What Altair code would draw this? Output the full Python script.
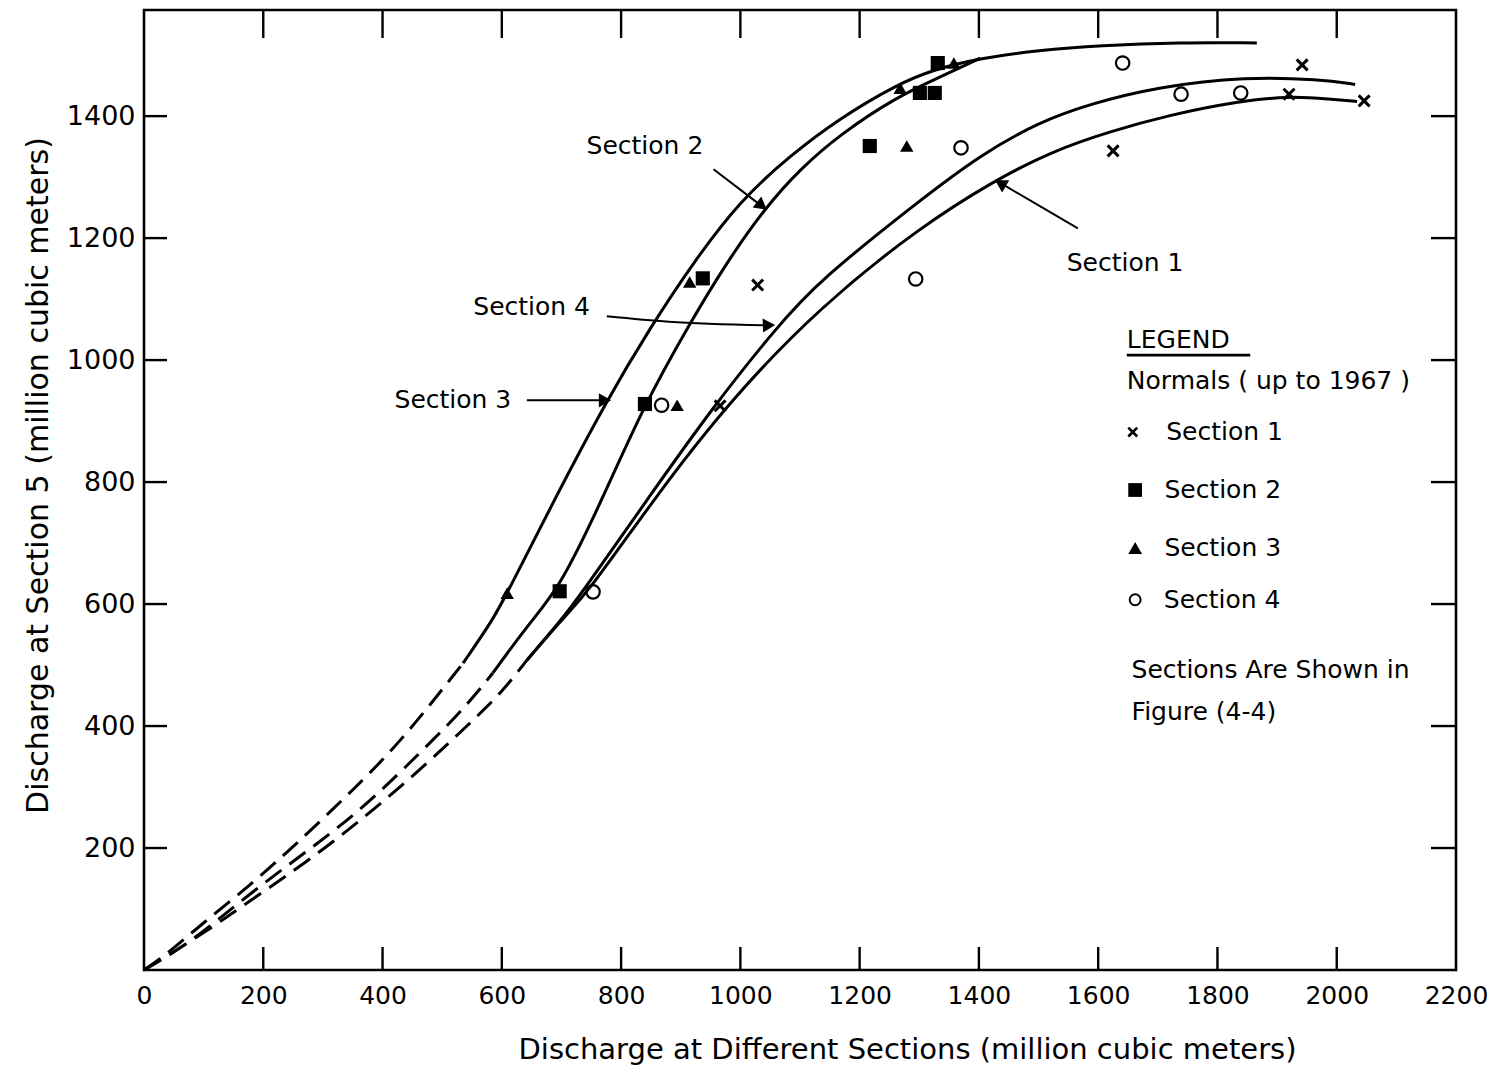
import altair as alt
import pandas as pd

# ---------------- data ----------------
# Curves (million cubic meters)
s3_dash_x = [0, 32, 99, 183, 257, 345, 429, 535]
s3_dash_y = [0, 21, 77, 143, 208, 290, 372, 503]
s3_x = [535, 585, 609, 690, 776, 850, 921, 1000, 1083, 1167, 1263, 1323, 1402, 1500, 1603, 1737, 1866]
s3_y = [503, 574, 618, 775, 934, 1055, 1160, 1262, 1335, 1397, 1452, 1476, 1495, 1508, 1516, 1521, 1520]

s2_dash_x = [0, 77, 178, 267, 357, 434, 535, 585]
s2_dash_y = [0, 44, 126, 190, 257, 328, 426, 487]
s2_x = [585, 647, 698, 770, 837, 915, 977, 1041, 1100, 1167, 1263, 1335, 1402]
s2_y = [487, 570, 628, 775, 923, 1060, 1160, 1249, 1313, 1370, 1432, 1464, 1495]

s14_dash_x = [0, 100, 174, 273, 371, 463, 547, 600, 642]
s14_dash_y = [0, 60, 111, 177, 251, 328, 405, 455, 508]

s4_x = [642, 698, 734, 850, 954, 1061, 1133, 1301, 1402, 1500, 1586, 1699, 1849, 1972, 2031]
s4_y = [508, 572, 618, 780, 923, 1054, 1131, 1262, 1336, 1390, 1420, 1448, 1465, 1460, 1452]

s1_x = [642, 698, 744, 862, 983, 1133, 1301, 1427, 1524, 1620, 1720, 1833, 1920, 1989, 2034]
s1_y = [508, 572, 618, 782, 934, 1087, 1218, 1295, 1343, 1375, 1402, 1424, 1433, 1428, 1424]

# Observed normals (up to 1967)
pts1_x = [966, 1029, 1625, 1920, 1942, 2046]
pts1_y = [925, 1123, 1343, 1436, 1484, 1425]
pts2_x = [697, 840, 937, 1217, 1301, 1326, 1331]
pts2_y = [621, 928, 1134, 1351, 1438, 1438, 1487]
pts3_x = [609, 894, 915, 1268, 1279, 1358]
pts3_y = [618, 926, 1128, 1446, 1351, 1487]
pts4_x = [753, 868, 1294, 1370, 1641, 1739, 1839]
pts4_y = [620, 926, 1133, 1348, 1487, 1436, 1438]

x_ticks = [0, 200, 400, 600, 800, 1000, 1200, 1400, 1600, 1800, 2000, 2200]
y_ticks = [200, 400, 600, 800, 1000, 1200, 1400]

# ---------------- build tables ----------------
def curve(name, xs, ys):
    return pd.DataFrame({"curve": name, "x": xs, "y": ys})

solid = pd.concat([curve("s3", s3_x, s3_y), curve("s2", s2_x, s2_y),
                   curve("s4", s4_x, s4_y), curve("s1", s1_x, s1_y)])
dashed = pd.concat([curve("s3", s3_dash_x, s3_dash_y), curve("s2", s2_dash_x, s2_dash_y),
                    curve("s14", s14_dash_x, s14_dash_y)])

W, H = 1312, 960
XD = [0, 2200]
YD = [0, 1574]
FONT = "DejaVu Sans"

xs = alt.Scale(domain=XD, nice=False, zero=False)
ys = alt.Scale(domain=YD, nice=False, zero=False)

x_axis = alt.Axis(values=x_ticks, ticks=False, domain=False, grid=False, format="d",
                  labelFontSize=25, labelFont=FONT, labelColor="black", labelPadding=13,
                  title="Discharge at Different Sections (million cubic meters)",
                  titleFontSize=29, titleFont=FONT, titleFontWeight="normal",
                  titleColor="black", titlePadding=27, labelFlush=False,
                  titleX=763)
y_axis = alt.Axis(values=y_ticks, ticks=False, domain=False, grid=False, format="d",
                  labelFontSize=27, labelFont=FONT, labelColor="black", labelPadding=9,
                  title="Discharge at Section 5 (million cubic meters)",
                  titleFontSize=30, titleFont=FONT, titleFontWeight="normal",
                  titleColor="black", titlePadding=13, titleY=465)

X = alt.X("x:Q", scale=xs, axis=x_axis)
Y = alt.Y("y:Q", scale=ys, axis=y_axis)

solid_lines = alt.Chart(solid).mark_line(color="black", strokeWidth=3, interpolate="basis").encode(
    x=X, y=Y, detail="curve:N")
dashed_lines = alt.Chart(dashed).mark_line(color="black", strokeWidth=3, interpolate="basis",
                                           strokeDash=[20, 10]).encode(x=X, y=Y, detail="curve:N")

# inward ticks
tx = pd.DataFrame({"x": x_ticks[1:-1]})
ty = pd.DataFrame({"y": y_ticks})
tick_bottom = alt.Chart(tx).mark_rule(color="black", strokeWidth=2.4).encode(
    x=X, y=alt.value(H), y2=alt.value(H - 23))
tick_top = alt.Chart(tx).mark_rule(color="black", strokeWidth=2.4).encode(
    x=X, y=alt.value(0), y2=alt.value(28))
tick_left = alt.Chart(ty).mark_rule(color="black", strokeWidth=2.4).encode(
    y=Y, x=alt.value(0), x2=alt.value(23))
tick_right = alt.Chart(ty).mark_rule(color="black", strokeWidth=2.4).encode(
    y=Y, x=alt.value(W), x2=alt.value(W - 25))

XSHAPE = "M-1,-1L1,1M1,-1L-1,1"
m1 = alt.Chart(pd.DataFrame({"x": pts1_x, "y": pts1_y})).mark_point(
    shape=XSHAPE, size=120, color="black", strokeWidth=3, filled=False, opacity=1).encode(x=X, y=Y)
m2 = alt.Chart(pd.DataFrame({"x": pts2_x, "y": pts2_y})).mark_point(
    shape="square", size=200, color="black", filled=True, opacity=1).encode(x=X, y=Y)
m3 = alt.Chart(pd.DataFrame({"x": pts3_x, "y": pts3_y})).mark_point(
    shape="triangle-up", size=180, color="black", filled=True, opacity=1).encode(x=X, y=Y)
m4 = alt.Chart(pd.DataFrame({"x": pts4_x, "y": pts4_y})).mark_point(
    shape="circle", size=180, color="black", strokeWidth=2.2, filled=False, opacity=1).encode(x=X, y=Y)

# curve labels with arrows
lab = pd.DataFrame({
    "x": [840, 650, 518, 1645],
    "y": [1351, 1087, 934, 1159],
    "t": ["Section 2", "Section 4", "Section 3", "Section 1"],
})
labels = alt.Chart(lab).mark_text(font=FONT, fontSize=25, color="black").encode(x=X, y=Y, text="t:N")

arr = pd.DataFrame({
    "id": ["a2", "a2", "a4", "a4", "a4", "a3", "a3", "a1", "a1"],
    "o": [0, 1, 0, 1, 2, 0, 1, 0, 1],
    "x": [955, 1030, 776, 880, 1050, 642, 770, 1566, 1440],
    "y": [1313, 1257, 1072, 1063, 1057, 934, 934, 1216, 1288],
})
arrow_lines = alt.Chart(arr).mark_line(color="black", strokeWidth=2, interpolate="monotone").encode(
    x=X, y=Y, detail="id:N", order="o:Q")
heads = pd.DataFrame({
    "x": [1036, 1048, 773, 1436],
    "y": [1253, 1057, 934, 1290],
    "a": [128, 88, 90, 300],
})
arrow_heads = alt.Chart(heads).mark_point(shape="triangle-up", size=200, color="black",
                                          filled=True, opacity=1).encode(
    x=X, y=Y, angle=alt.Angle("a:Q", scale=None))

# legend block
leg_text = pd.DataFrame({
    "x": [1648, 1648, 1714, 1711, 1711, 1710, 1656, 1656],
    "y": [1033, 966, 882, 787, 692, 607, 492, 423],
    "t": ["LEGEND", "Normals ( up to 1967 )", "Section  1", "Section  2", "Section  3",
          "Section  4", "Sections Are Shown in", "Figure (4-4)"],
})
legend_texts = alt.Chart(leg_text).mark_text(font=FONT, fontSize=25, color="black", align="left").encode(
    x=X, y=Y, text="t:N")
underline = alt.Chart(pd.DataFrame({"x": [1648], "x2": [1855], "y": [1008]})).mark_rule(
    color="black", strokeWidth=2.8).encode(x=X, x2="x2:Q", y=Y)
lm1 = alt.Chart(pd.DataFrame({"x": [1658], "y": [882]})).mark_point(
    shape=XSHAPE, size=80, color="black", strokeWidth=2.6, filled=False, opacity=1).encode(x=X, y=Y)
lm2 = alt.Chart(pd.DataFrame({"x": [1662], "y": [787]})).mark_point(
    shape="square", size=190, color="black", filled=True, opacity=1).encode(x=X, y=Y)
lm3 = alt.Chart(pd.DataFrame({"x": [1662], "y": [692]})).mark_point(
    shape="triangle-up", size=190, color="black", filled=True, opacity=1).encode(x=X, y=Y)
lm4 = alt.Chart(pd.DataFrame({"x": [1662], "y": [607]})).mark_point(
    shape="circle", size=120, color="black", strokeWidth=2, filled=False, opacity=1).encode(x=X, y=Y)

chart = alt.layer(
    dashed_lines, solid_lines, tick_bottom, tick_top, tick_left, tick_right,
    m1, m2, m3, m4, labels, arrow_lines, arrow_heads,
    legend_texts, underline, lm1, lm2, lm3, lm4,
).properties(
    width=W, height=H,
    autosize=alt.AutoSizeParams(type="none"),
    padding={"left": 136, "top": 2, "right": 37, "bottom": 98},
    background="white",
).configure_view(stroke="black", strokeWidth=2.6)

chart.save("out.html", embed_options={"renderer": "svg", "actions": False})
